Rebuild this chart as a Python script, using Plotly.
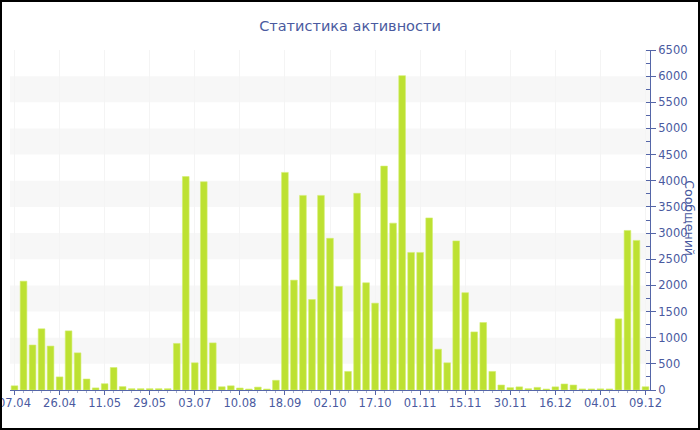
import plotly.graph_objects as go

# --- data ---
tick_labels = ["07.04", "26.04", "11.05", "29.05", "03.07", "10.08", "18.09", "02.10",
               "17.10", "01.11", "15.11", "30.11", "16.12", "04.01", "09.12"]
tick_positions = [0, 5, 10, 15, 20, 25, 30, 35, 40, 45, 50, 55, 60, 65, 70]
values = [80, 2080, 860, 1170, 840, 250, 1130, 710, 210, 40,
          120, 430, 65, 25, 25, 25, 25, 25, 890, 4080,
          520, 3980, 900, 62, 80, 38, 19, 55, 19, 185,
          4160, 2100, 3720, 1730, 3720, 2900, 1980, 355, 3760, 2050,
          1660, 4280, 3190, 6010, 2630, 2630, 3290, 780, 520, 2850,
          1860, 1110, 1290, 355, 95, 45, 60, 25, 50, 19,
          60, 115, 95, 20, 20, 22, 20, 1360, 3050, 2860,
          62]
x_index = list(range(len(values)))

title_text = "Статистика активности"
y_title = "Сообщений"

BLUE = "#4a5aa0"
AXIS = "#5566a8"
FONT = "DejaVu Sans"

fig = go.Figure()
fig.add_trace(go.Bar(
    x=x_index, y=values,
    marker=dict(color="#bde132", line=dict(color="#d4ee6e", width=0.6)),
    hoverinfo="y",
))

# alternating bands
shapes = []
for lo in range(500, 6500, 1000):
    shapes.append(dict(type="rect", xref="paper", yref="y", x0=0, x1=1, y0=lo, y1=lo + 500,
                       fillcolor="#f7f7f7", line=dict(width=0), layer="below"))
# outer border
W, H = 700, 430
ml, mr, mt, mb = 10, 50, 50, 40
pw, ph = W - ml - mr, H - mt - mb
shapes.append(dict(type="rect", xref="paper", yref="paper",
                   x0=(-ml + 1) / pw, x1=(pw + mr - 1) / pw,
                   y0=(-mb + 1) / ph, y1=(ph + mt - 1) / ph,
                   line=dict(color="black", width=2), fillcolor="rgba(0,0,0,0)", layer="above"))

fig.update_layout(
    width=W, height=H,
    margin=dict(l=ml, r=mr, t=mt, b=mb, autoexpand=False),
    paper_bgcolor="white", plot_bgcolor="white",
    font=dict(family=FONT, color=BLUE, size=11.5),
    title=dict(text=title_text, x=0.5, xref="container", xanchor="center",
               y=1 - 26 / H, yanchor="middle", font=dict(size=14.5, color=BLUE, family=FONT)),
    bargap=0.26,
    showlegend=False,
    shapes=shapes,
    xaxis=dict(
        type="linear", range=[-0.5, 70.5], automargin=False,
        tickmode="array", tickvals=tick_positions, ticktext=tick_labels,
        ticklabeloverflow="allow", ticklabelstandoff=-2,
        ticks="outside", ticklen=4, tickcolor=AXIS,
        showline=True, linecolor=AXIS, linewidth=1,
        showgrid=True, gridcolor="#f4f4f4", gridwidth=1,
        zeroline=False,
        tickfont=dict(size=11.5, color=BLUE, family=FONT),
        minor=dict(ticks="outside", ticklen=2, tickcolor="#aab2d0", dtick=1, tick0=0, showgrid=False),
    ),
    yaxis=dict(
        side="right", range=[0, 6500], dtick=500, tick0=0, automargin=False,
        ticklabeloverflow="allow",
        ticks="outside", ticklen=5, tickcolor=AXIS,
        showline=True, linecolor=AXIS, linewidth=1,
        showgrid=False, zeroline=False,
        tickfont=dict(size=11.5, color=BLUE, family=FONT),
        minor=dict(ticks="inside", ticklen=4, tickcolor=AXIS, dtick=250, showgrid=False),
    ),
    annotations=[dict(text=y_title, xref="paper", yref="paper", x=(690 - ml) / pw, y=0.505,
                      xanchor="center", yanchor="middle", textangle=90, showarrow=False,
                      font=dict(size=12.5, color=BLUE, family=FONT))],
)

fig.write_html("out.html", config={"displayModeBar": False},
               post_script="document.body.style.margin='0';document.body.style.overflow='hidden';")
